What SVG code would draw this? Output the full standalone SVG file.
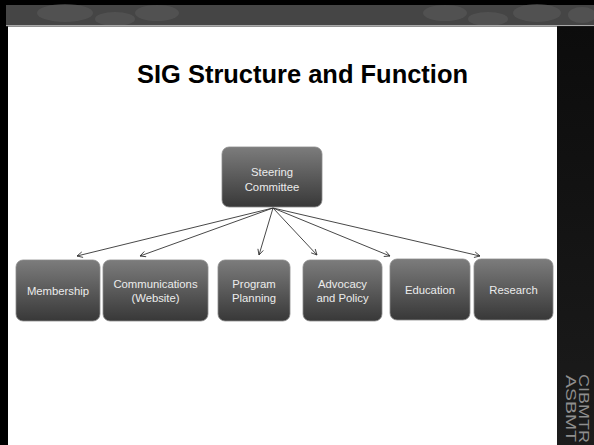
<svg xmlns="http://www.w3.org/2000/svg" width="594" height="445" viewBox="0 0 594 445">
<defs>
<linearGradient id="boxg" x1="0" y1="0" x2="0" y2="1">
<stop offset="0" stop-color="#7c7c7c"/>
<stop offset="0.5" stop-color="#5a5a5a"/>
<stop offset="1" stop-color="#383838"/>
</linearGradient>
<linearGradient id="barg" x1="0" y1="0" x2="0" y2="1">
<stop offset="0" stop-color="#0c0c0c"/>
<stop offset="1" stop-color="#1c1c1c"/>
</linearGradient>
<marker id="ah" viewBox="0 0 10 10" refX="9" refY="5" markerWidth="7" markerHeight="7" orient="auto" markerUnits="userSpaceOnUse">
<path d="M1,1 L9,5 L1,9" fill="none" stroke="#333" stroke-width="1.2"/>
</marker>
<style>
.box{fill:url(#boxg);stroke:#8a8a8a;stroke-width:0.8}
.lbl{font-family:"Liberation Sans",Arial,sans-serif;font-size:11.3px;fill:#ececec;text-anchor:middle}
.conn{stroke:#333;stroke-width:0.9;fill:none;marker-end:url(#ah)}
.logo{font-family:"Liberation Sans",Arial,sans-serif;font-size:14px;fill:#8e8e8e}
</style>
</defs>
<rect x="0" y="0" width="594" height="445" fill="#000"/>
<rect x="6" y="5" width="588" height="21" fill="#454545"/>
<g fill="#5a5a5a" opacity="0.6">
<ellipse cx="65" cy="13" rx="28" ry="9"/>
<ellipse cx="115" cy="19" rx="20" ry="7"/>
<ellipse cx="157" cy="13" rx="22" ry="8"/>
<ellipse cx="445" cy="13" rx="22" ry="8"/>
<ellipse cx="488" cy="19" rx="20" ry="7"/>
<ellipse cx="537" cy="13" rx="24" ry="9"/>
<ellipse cx="582" cy="15" rx="14" ry="8"/>
</g>
<rect x="6" y="25" width="588" height="1.2" fill="#a8a8a8"/>
<rect x="8" y="26.5" width="549" height="418.5" fill="#ffffff"/>
<rect x="557" y="26.5" width="37" height="418.5" fill="url(#barg)"/>
<text x="302.5" y="83" font-family="'Liberation Sans',Arial,sans-serif" font-weight="bold" font-size="25px" fill="#000" text-anchor="middle" textLength="331" lengthAdjust="spacingAndGlyphs">SIG Structure and Function</text>
<g id="connectors">
<line class="conn" x1="273" y1="208" x2="77" y2="256"/>
<line class="conn" x1="273" y1="208" x2="140" y2="256"/>
<line class="conn" x1="273" y1="208" x2="259" y2="255"/>
<line class="conn" x1="273" y1="208" x2="317" y2="255"/>
<line class="conn" x1="273" y1="208" x2="390" y2="256"/>
<line class="conn" x1="273" y1="208" x2="480" y2="256"/>
</g>
<g id="steering">
<rect class="box" x="222" y="147" width="100" height="60" rx="7"/>
<text class="lbl" x="272" y="176">Steering</text>
<text class="lbl" x="272" y="190.5">Committee</text>
</g>
<g id="membership">
<rect class="box" x="16" y="260" width="84" height="61" rx="7"/>
<text class="lbl" x="58" y="295">Membership</text>
</g>
<g id="communications">
<rect class="box" x="103" y="260" width="105" height="61" rx="7"/>
<text class="lbl" x="155.5" y="288">Communications</text>
<text class="lbl" x="155.5" y="301.5">(Website)</text>
</g>
<g id="program">
<rect class="box" x="218" y="260" width="72" height="61" rx="7"/>
<text class="lbl" x="254" y="288">Program</text>
<text class="lbl" x="254" y="301.5">Planning</text>
</g>
<g id="advocacy">
<rect class="box" x="303" y="260" width="79" height="61" rx="7"/>
<text class="lbl" x="342.5" y="288">Advocacy</text>
<text class="lbl" x="342.5" y="301.5">and Policy</text>
</g>
<g id="education">
<rect class="box" x="390" y="259" width="80" height="61" rx="7"/>
<text class="lbl" x="430" y="293.5">Education</text>
</g>
<g id="research">
<rect class="box" x="474" y="259" width="79" height="61" rx="7"/>
<text class="lbl" x="513.5" y="293.5">Research</text>
</g>
<g id="logo">
<text class="logo" transform="translate(579,374) rotate(90)" textLength="69" lengthAdjust="spacingAndGlyphs">CIBMTR</text>
<text class="logo" transform="translate(566,375) rotate(90)" textLength="67" lengthAdjust="spacingAndGlyphs">ASBMT</text>
</g>
</svg>
